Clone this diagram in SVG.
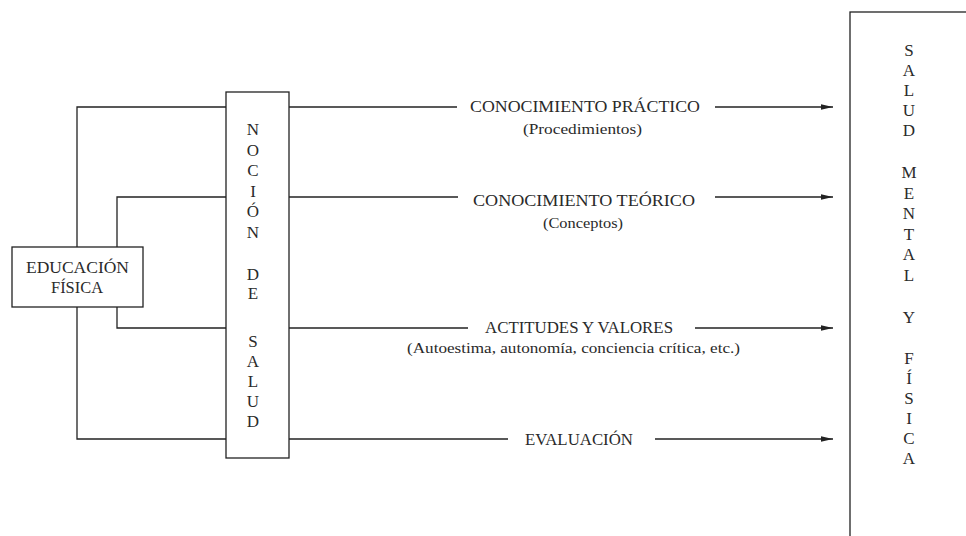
<svg xmlns="http://www.w3.org/2000/svg" width="966" height="536" viewBox="0 0 966 536">
<style>
  .box { fill: #fff; stroke: #222; stroke-width: 1.3; }
  .ln { fill: none; stroke: #222; stroke-width: 1.3; }
  .t { font-family: "Liberation Serif", "Times New Roman", serif; fill: #2a2a2a; }
  .main { font-size: 17px; text-anchor: start; }
  .sub { font-size: 15.5px; text-anchor: start; }
  .ctr { font-size: 17px; text-anchor: middle; }
  .v { font-size: 17px; text-anchor: middle; }
</style>
<defs>
  <marker id="arr" viewBox="0 0 12 6" refX="12" refY="3" markerWidth="12" markerHeight="6" markerUnits="userSpaceOnUse" orient="auto">
    <path d="M0,0.3 L12,3 L0,5.7 Z" fill="#222"/>
  </marker>
</defs>
<rect width="966" height="536" fill="#fff"/>

<g id="connectors">
  <path class="ln" d="M77,247 V107 H226"/>
  <path class="ln" d="M77,307 V439 H226"/>
  <path class="ln" d="M117,247 V197 H226"/>
  <path class="ln" d="M117,307 V328 H226"/>
  <line class="ln" x1="289" y1="107" x2="457" y2="107"/>
  <line class="ln" x1="715" y1="107" x2="833" y2="107" marker-end="url(#arr)"/>
  <line class="ln" x1="289" y1="197" x2="458" y2="197"/>
  <line class="ln" x1="715" y1="197" x2="833" y2="197" marker-end="url(#arr)"/>
  <line class="ln" x1="289" y1="328" x2="468" y2="328"/>
  <line class="ln" x1="695" y1="328" x2="833" y2="328" marker-end="url(#arr)"/>
  <line class="ln" x1="289" y1="439" x2="508" y2="439"/>
  <line class="ln" x1="655" y1="439" x2="833" y2="439" marker-end="url(#arr)"/>
</g>

<g id="educacion-fisica">
  <rect class="box" x="12" y="247" width="131" height="60"/>
  <text class="t ctr" x="77.5" y="273" textLength="103" lengthAdjust="spacingAndGlyphs">EDUCACIÓN</text>
  <text class="t ctr" x="77" y="293" textLength="52" lengthAdjust="spacingAndGlyphs">FÍSICA</text>
</g>

<g id="nocion-de-salud">
  <rect class="box" x="226" y="92" width="63" height="366"/>
  <text class="t v" x="253" y="135">N</text>
  <text class="t v" x="253" y="155.5">O</text>
  <text class="t v" x="253" y="176">C</text>
  <text class="t v" x="253" y="196.5">I</text>
  <text class="t v" x="253" y="217">Ó</text>
  <text class="t v" x="253" y="237.5">N</text>
  <text class="t v" x="253" y="280">D</text>
  <text class="t v" x="253" y="299">E</text>
  <text class="t v" x="253" y="347">S</text>
  <text class="t v" x="253" y="367">A</text>
  <text class="t v" x="253" y="387">L</text>
  <text class="t v" x="253" y="407">U</text>
  <text class="t v" x="253" y="427">D</text>
</g>

<g id="conocimiento-practico">
  <text class="t main" x="470" y="112" textLength="230" lengthAdjust="spacingAndGlyphs">CONOCIMIENTO PRÁCTICO</text>
  <text class="t sub" x="523" y="134" textLength="119" lengthAdjust="spacingAndGlyphs">(Procedimientos)</text>
</g>

<g id="conocimiento-teorico">
  <text class="t main" x="473" y="206" textLength="222" lengthAdjust="spacingAndGlyphs">CONOCIMIENTO TEÓRICO</text>
  <text class="t sub" x="543" y="228" textLength="80" lengthAdjust="spacingAndGlyphs">(Conceptos)</text>
</g>

<g id="actitudes-valores">
  <text class="t main" x="485" y="333" textLength="188" lengthAdjust="spacingAndGlyphs">ACTITUDES Y VALORES</text>
  <text class="t sub" x="407" y="353" textLength="333" lengthAdjust="spacingAndGlyphs">(Autoestima, autonomía, conciencia crítica, etc.)</text>
</g>

<g id="evaluacion">
  <text class="t main" x="525" y="445" textLength="108" lengthAdjust="spacingAndGlyphs">EVALUACIÓN</text>
</g>

<g id="salud-mental-fisica">
  <rect class="box" x="850" y="12" width="140" height="540"/>
  <text class="t v" x="909" y="56">S</text>
  <text class="t v" x="909" y="76">A</text>
  <text class="t v" x="909" y="96">L</text>
  <text class="t v" x="909" y="116">U</text>
  <text class="t v" x="909" y="136">D</text>
  <text class="t v" x="909" y="178">M</text>
  <text class="t v" x="909" y="198.5">E</text>
  <text class="t v" x="909" y="219">N</text>
  <text class="t v" x="909" y="239.5">T</text>
  <text class="t v" x="909" y="260">A</text>
  <text class="t v" x="909" y="280.5">L</text>
  <text class="t v" x="909" y="323">Y</text>
  <text class="t v" x="909" y="364">F</text>
  <text class="t v" x="909" y="384">Í</text>
  <text class="t v" x="909" y="404">S</text>
  <text class="t v" x="909" y="424">I</text>
  <text class="t v" x="909" y="444">C</text>
  <text class="t v" x="909" y="464">A</text>
</g>
</svg>
